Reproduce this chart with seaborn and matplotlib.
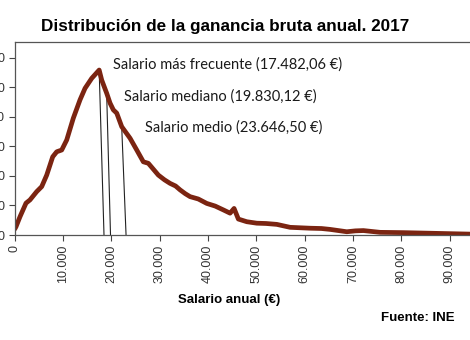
import matplotlib
matplotlib.use("Agg")
import matplotlib.pyplot as plt
import seaborn as sns
import numpy as np
import pandas as pd

# Distribution of gross annual earnings (2017)
salario = [0, 269, 1097, 2340, 3168, 4555, 5590, 6625, 7867, 8696, 9731, 10766,
           12133, 13520, 14555, 15942, 17482, 18012, 19048, 19731, 20414, 21118,
           22153, 23872, 25259, 26625, 27660, 29731, 31000, 32153, 33300, 34224,
           35300, 36294, 38000, 39752, 41500, 43188, 44576, 45404, 46294, 48033,
           50104, 52000, 54244, 56998, 61139, 63500, 65280, 68737, 70500, 72174,
           75631, 80455, 85983, 94265, 98000]
frecuencia = [2.0, 2.8, 6.2, 10.8, 11.9, 14.7, 16.4, 20.3, 26.5, 28.2, 28.8, 32.2,
              39.6, 45.8, 49.7, 53.1, 55.9, 52.5, 48.0, 44.7, 42.4, 41.3,
              36.7, 32.8, 28.8, 24.8, 24.3, 20.3, 18.7, 17.5, 16.6, 15.3,
              14.0, 13.0, 12.2, 10.7, 9.8, 8.5, 7.4, 9.0, 5.4, 4.5,
              4.0, 3.9, 3.6, 2.6, 2.3, 2.2, 1.9, 1.1, 1.4, 1.5,
              0.9, 0.8, 0.6, 0.3, 0.3]

estadisticos = ["Salario más frecuente", "Salario mediano", "Salario medio"]
valores = [17482.06, 19830.12, 23646.50]
etiquetas_valor = ["17.482,06 €", "19.830,12 €", "23.646,50 €"]

x_ticks = list(range(0, 100000, 10000))
x_tick_labels = ["0", "10.000", "20.000", "30.000", "40.000", "50.000",
                 "60.000", "70.000", "80.000", "90.000"]
y_ticks = [0, 10, 20, 30, 40, 50, 60]

sns.set_theme(style="white")
plt.rcParams["font.family"] = ["Liberation Sans", "DejaVu Sans"]

df = pd.DataFrame({"salario": salario, "frecuencia": frecuencia})

fig = plt.figure(figsize=(4.7, 3.4), dpi=100)
ax = fig.add_axes([14.7 / 470, 105 / 340, 459 / 470, 193 / 340])

sns.lineplot(data=df, x="salario", y="frecuencia", ax=ax, color="#7B2411",
             linewidth=3.4, solid_joinstyle="round", solid_capstyle="round")

ax.set_xlim(0, 95000)
ax.set_ylim(0, 65.4)

# hand-placed leader lines: (shift at the curve, shift at the axis) in euros
leader_shift = [(0, 1000), (-800, 0), (-1500, -600)]
text_pos = [(0.215, 0.885), (0.238, 0.715), (0.283, 0.555)]
for name, v, lab, (top_dx, bot_dx), (tx, ty) in zip(
        estadisticos, valores, etiquetas_valor, leader_shift, text_pos):
    y_top = np.interp(v + top_dx, salario, frecuencia)
    ax.plot([v + top_dx, v + bot_dx], [y_top, 0], color="#222222",
            linewidth=0.8, zorder=1)
    ax.text(tx, ty, f"{name} ({lab})", transform=ax.transAxes,
            fontsize=10.5, family=["Lato", "DejaVu Sans"], color="#1a1a1a",
            va="center", ha="left")

ax.set_xticks(x_ticks)
ax.set_xticklabels(x_tick_labels, rotation=90, fontsize=9, color="#333333")
ax.set_yticks(y_ticks)
ax.set_yticklabels([str(t) for t in y_ticks], fontsize=9, color="#333333")
ax.tick_params(axis="both", direction="out", length=4, width=0.8,
               color="#444444", bottom=True, left=True, pad=3)

for s in ax.spines.values():
    s.set_color("#555555")
    s.set_linewidth(0.9)

ax.set_xlabel("Salario anual (€)", fontsize=9.5, fontweight="bold",
              color="black", labelpad=8)
ax.xaxis.set_label_coords(0.467, -0.305)
ax.set_ylabel("")

fig.text(225 / 470, 1 - 27 / 340, "Distribución de la ganancia bruta anual. 2017",
         ha="center", va="center", fontsize=12.3, fontweight="bold", color="black")
fig.text(455 / 470, 1 - 318 / 340, "Fuente: INE", ha="right", va="center",
         fontsize=9.5, fontweight="bold", color="black")

fig.savefig("out.png", dpi=100)
